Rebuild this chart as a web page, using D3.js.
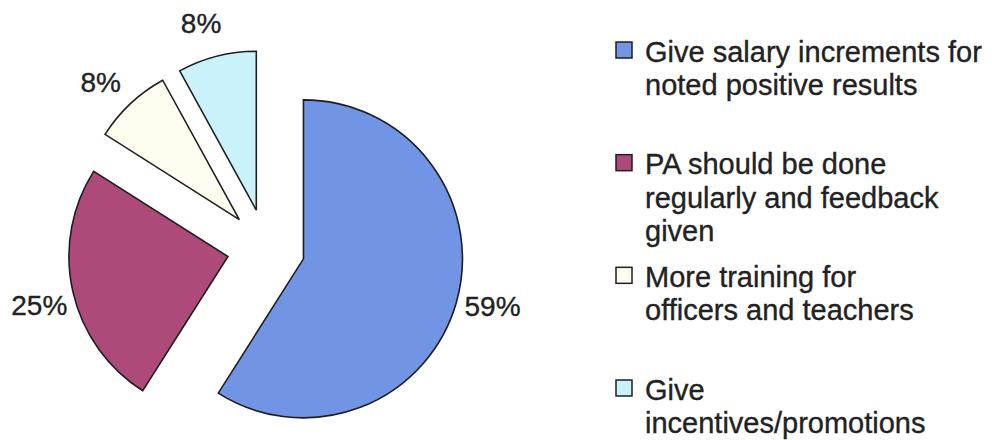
<!DOCTYPE html>
<html>
<head>
<meta charset="utf-8">
<script src="https://cdn.jsdelivr.net/npm/d3@7/dist/d3.min.js"></script>
<style>
  html, body { margin: 0; padding: 0; background: #ffffff; }
  svg { display: block; }
  text { font-family: "Liberation Sans", Arial, sans-serif; fill: #222; stroke: #222; stroke-width: 0.35; }
</style>
</head>
<body>
<svg id="chart" width="992" height="440"></svg>
<script>
// Survey responses: suggested improvements (percent of respondents)
const categories = [
  "Give salary increments for noted positive results",
  "PA should be done regularly and feedback given",
  "More training for officers and teachers",
  "Give incentives/promotions"
];
const values = [59, 25, 8, 8];
const colors = ["#7194e4", "#ae4a7a", "#fffdf0", "#c9f2fb"];
// Legend text, wrapped as drawn
const legendLines = [
  ["Give salary increments for", "noted positive results"],
  ["PA should be done", "regularly and feedback", "given"],
  ["More training for", "officers and teachers"],
  ["Give", "incentives/promotions"]
];

const svg = d3.select("#chart");
const cx = 266, cy = 248;
const radius = 159;
const explode = 39;
const labelRadius = 234;

const data = categories.map((c, i) => ({ category: c, value: values[i], color: colors[i] }));

const pie = d3.pie().sort(null).value(d => d.value).startAngle(0).endAngle(2 * Math.PI);
const arcs = pie(data);
const arc = d3.arc().innerRadius(0).outerRadius(radius);

const g = svg.append("g").attr("transform", `translate(${cx},${cy})`);

const mid = d => (d.startAngle + d.endAngle) / 2;

// Exploded slices, each pushed out along its bisector
g.selectAll("path.slice")
  .data(arcs)
  .join("path")
  .attr("class", "slice")
  .attr("d", arc)
  .attr("transform", d => {
    const a = mid(d);
    return `translate(${explode * Math.sin(a)},${-explode * Math.cos(a)})`;
  })
  .attr("fill", d => d.data.color)
  .attr("stroke", "#1e1e1e")
  .attr("stroke-width", 1.6)
  .attr("stroke-linejoin", "miter");

// Percentage labels outside each slice (placed slightly ahead of the bisector)
const labelAngle = d => mid(d) - 0.03;
g.selectAll("text.pct")
  .data(arcs)
  .join("text")
  .attr("class", "pct")
  .attr("x", d => labelRadius * Math.sin(labelAngle(d)))
  .attr("y", d => -labelRadius * Math.cos(labelAngle(d)))
  .attr("text-anchor", "middle")
  .attr("dominant-baseline", "central")
  .attr("font-size", 28)
  .text(d => d.data.value + "%");

// Legend
const legendY = d3.scalePoint()
  .domain(d3.range(categories.length))
  .range([42, 380]);
const legendX = 616, swatch = 16, textX = 645, lineHeight = 33.5;

const items = svg.selectAll("g.legend-item")
  .data(data)
  .join("g")
  .attr("class", "legend-item")
  .attr("transform", (d, i) => `translate(0,${legendY(i)})`);

items.append("rect")
  .attr("x", legendX)
  .attr("y", 0)
  .attr("width", swatch)
  .attr("height", swatch)
  .attr("fill", d => d.color)
  .attr("stroke", "#1e1e1e")
  .attr("stroke-width", 1.5);

items.each(function(d, i) {
  const t = d3.select(this).append("text")
    .attr("font-size", 29);
  legendLines[i].forEach((line, k) => {
    t.append("tspan")
      .attr("x", textX)
      .attr("y", 19.5 + k * lineHeight)
      .text(line);
  });
});
</script>
</body>
</html>
